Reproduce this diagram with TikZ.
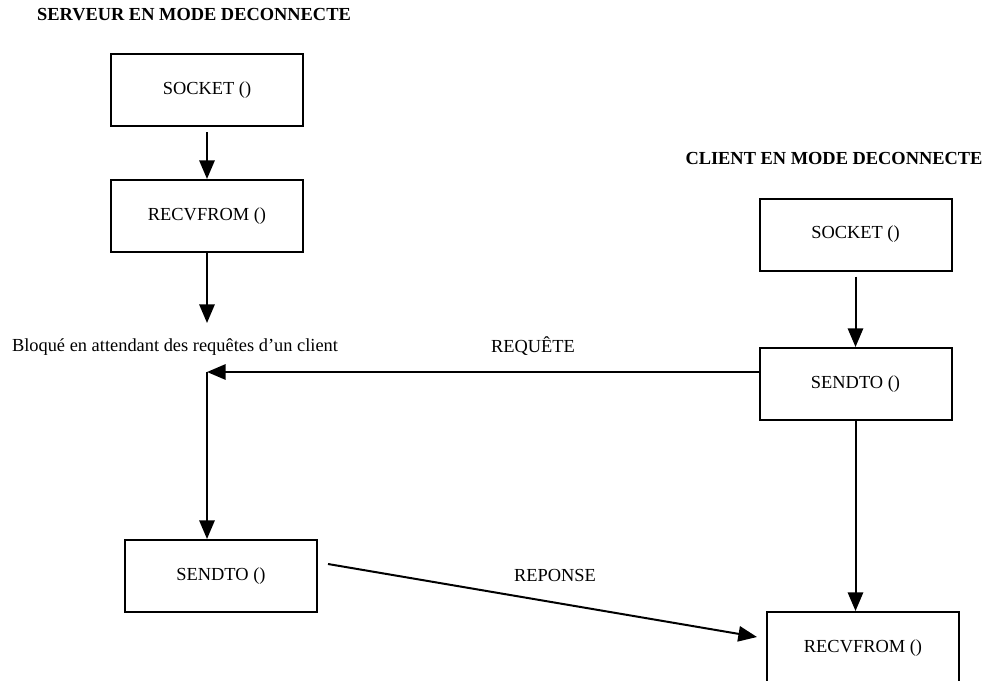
\documentclass[tikz,border=0pt]{standalone}
\usepackage{fontspec}
\setmainfont{Liberation Serif}
\usetikzlibrary{arrows.meta,calc}
\begin{document}
\begin{tikzpicture}[x=0.75pt,y=-0.75pt,
  every node/.style={font=\fontsize{13.8}{16}\selectfont},
  box/.style={draw,line width=1.5pt,minimum width=144pt,minimum height=54pt,inner sep=0pt},
  title/.style={font=\fontsize{13.8}{16}\selectfont\bfseries,inner sep=0pt},
  lbl/.style={inner sep=0pt},
  arr/.style={line width=1.5pt,-{Triangle[length=14pt,width=11.5pt]}},
  ln/.style={line width=1.5pt}]
\useasboundingbox (0,0) rectangle (988,681);
\node[title] (st) at (194,15) {SERVEUR EN MODE DECONNECTE};
\node[title] (ct) at (834,158) {CLIENT EN MODE DECONNECTE};
\node[box] (sSock) at (207,90.5) {SOCKET ()};
\node[box] (sRecv) at (207,216) {RECVFROM ()};
\node[box] (sSend) at (221,576) {SENDTO ()};
\node[box] (cSock) at (855.5,234.5) {SOCKET ()};
\node[box] (cSend) at (855.5,384) {SENDTO ()};
\node[box] (cRecv) at (863,648) {RECVFROM ()};
\node[lbl] (blq) at (175,347) {Bloqué en attendant des requêtes d’un client};
\node[lbl] (req) at (533,346) {REQUÊTE};
\node[lbl] (rep) at (555,575) {REPONSE};
\coordinate (wait) at (207,323);
\coordinate (jn) at (207,372);
\draw[arr] ($(sSock.south)+(0,5)$) -- (sRecv.north);
\draw[arr] (sRecv.south) -- (wait);
\draw[arr] (cSend.west |- jn) -- (jn);
\draw[arr] (jn) -- (jn |- sSend.north);
\draw[arr] ($(cSock.south)+(0,5)$) -- (cSend.north);
\draw[arr] (cSend.south) -- (cSend.south |- cRecv.north);
\draw[arr] ($(sSend.east)+(10,-12)$) -- ($(cRecv.west)+(-9,-11)$);
\end{tikzpicture}
\end{document}
